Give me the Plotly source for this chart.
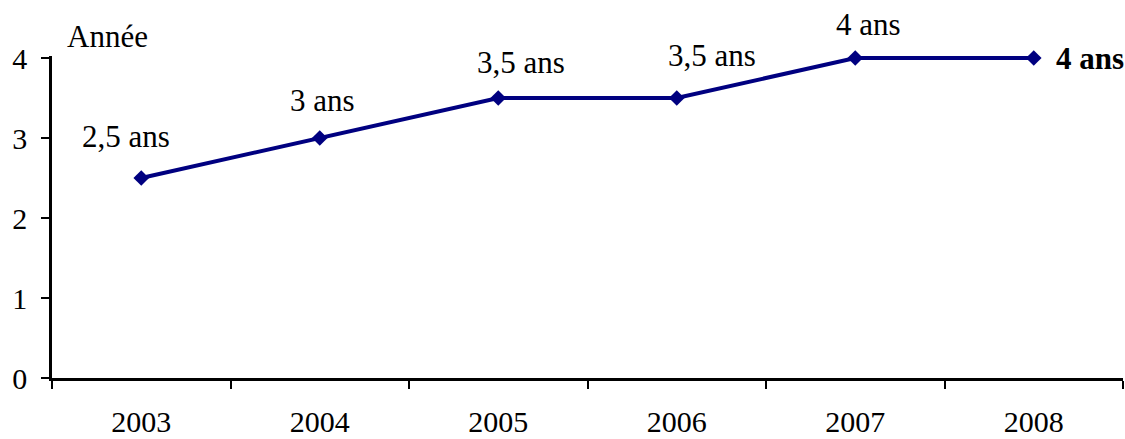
import plotly.graph_objects as go

years = ["2003", "2004", "2005", "2006", "2007", "2008"]
durations = [2.5, 3, 3.5, 3.5, 4, 4]
point_labels = ["2,5 ans", "3 ans", "3,5 ans", "3,5 ans", "4 ans", "4 ans"]
y_ticks = [0, 1, 2, 3, 4]

NAVY = "#000080"
FONT = "Liberation Serif, Times New Roman, serif"

x_pos = list(range(len(years)))
# boundary ticks between categories
bounds = [i - 0.5 for i in range(len(years) + 1)]

fig = go.Figure()
fig.add_trace(go.Scatter(
    x=x_pos,
    y=durations,
    mode="lines+markers",
    line=dict(color=NAVY, width=4),
    marker=dict(symbol="diamond", size=12, color=NAVY),
    cliponaxis=False,
    showlegend=False,
))

# label offsets (px) relative to each point
shifts = [(-15, 42), (3, 38), (23, 36), (35, 43), (13, 34), (56, 0)]
for xp, val, txt, (dx, dy) in zip(x_pos, durations, point_labels, shifts):
    last = xp == x_pos[-1]
    fig.add_annotation(
        x=xp, y=val, xref="x", yref="y",
        text=f"<b>{txt}</b>" if last else txt,
        showarrow=False, xshift=dx, yshift=dy,
        font=dict(family=FONT, size=31, color="black"),
    )

fig.add_annotation(
    x=bounds[0], y=4, xref="x", yref="y", text="Année", showarrow=False,
    xanchor="left", xshift=13, yshift=22,
    font=dict(family=FONT, size=31, color="black"),
)

fig.update_xaxes(
    range=[bounds[0], bounds[-1]],
    tickmode="array", tickvals=x_pos, ticktext=years, ticks="",
    ticklabelstandoff=15,
    minor=dict(tickmode="array", tickvals=bounds, ticks="outside",
               ticklen=8, tickwidth=2, tickcolor="black", showgrid=False),
    showline=True, linecolor="black", linewidth=2.5,
    showgrid=False, zeroline=False, automargin=False,
    tickfont=dict(family=FONT, size=30, color="black"),
)
fig.update_yaxes(
    range=[0, 4.025], tickvals=y_ticks,
    ticks="outside", ticklen=8, tickwidth=2, tickcolor="black",
    ticklabelstandoff=8,
    showline=True, linecolor="black", linewidth=2.5,
    showgrid=False, zeroline=False, automargin=False,
    tickfont=dict(family=FONT, size=30, color="black"),
)

fig.update_layout(
    width=1125, height=439,
    margin=dict(l=52, r=2, t=56, b=61),
    plot_bgcolor="white", paper_bgcolor="white",
)

fig.write_html(
    "out.html",
    config={"displayModeBar": False},
    post_script="document.body.style.margin='0';document.body.style.overflow='hidden';",
)
